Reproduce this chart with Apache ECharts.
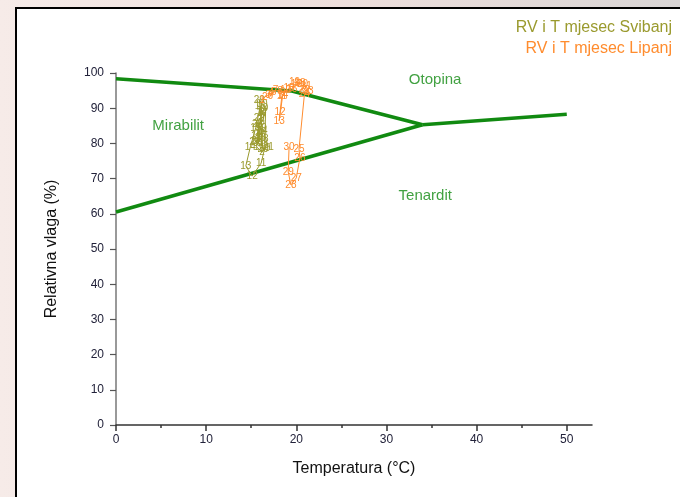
<!DOCTYPE html>
<html>
<head>
<meta charset="utf-8">
<script src="https://cdn.jsdelivr.net/npm/echarts@6/dist/echarts.min.js"></script>
<style>
  html, body { margin:0; padding:0; width:680px; height:497px; overflow:hidden;
    background: linear-gradient(to right, #f6ebe8 0%, #eedfdc 50%, #d9d5d5 100%); }
  #box { position:absolute; left:15px; top:7px; width:700px; height:520px;
    background:#fff; border:2px solid #000; }
  #chart { position:absolute; left:0; top:0; width:680px; height:497px; }
</style>
</head>
<body>
<div id="box"></div>
<div id="chart"></div>
<script>
// Tick labels
const xTicks = [0, 10, 20, 30, 40, 50];
const xMinorTicks = [5, 15, 25, 35, 45];
const yTicks = [0, 10, 20, 30, 40, 50, 60, 70, 80, 90, 100];

// Svibanj (May): temperature (°C) and relative humidity (%) by day 1..31
const mayT  = [15.6,16.2,15.7,16.0,15.7,16.2,16.4,16.2,16.6,16.5,16.1,15.1,14.4,14.9,15.5,16.0,16.2,15.6,16.1,16.3,16.9,15.9,15.7,16.2,15.6,16.0,15.4,16.3,15.9,16.2,15.8];
const mayRH = [79.0,77.6,81.0,83.0,84.7,86.1,87.5,88.9,90.1,78.7,74.4,70.7,73.6,79.0,84.4,90.6,88.6,82.1,84.4,78.4,79.0,87.2,85.5,83.5,80.7,81.5,80.4,81.3,92.3,91.2,80.0];

// Lipanj (June): temperature (°C) and relative humidity (%) by day 1..30
const junT  = [16.2,16.5,16.9,17.2,17.5,17.1,17.7,18.2,18.5,18.8,18.4,18.2,18.1,18.5,19.2,19.5,20.0,20.4,19.8,20.7,21.1,20.9,21.3,20.9,20.3,20.4,20.0,19.4,19.1,19.2];
const junRH = [92.3,93.2,93.8,94.3,94.6,93.5,95.2,94.9,94.6,95.2,93.5,88.9,86.4,93.8,95.7,95.5,96.9,97.2,97.4,96.9,96.3,95.2,94.9,93.9,78.4,75.9,70.2,68.2,71.9,79.0];

// Phase boundary lines (T, RH)
const boundaryUpperT  = [0, 19.5, 34];
const boundaryUpperRH = [98.4, 94.9, 85.3];
const boundaryLowerT  = [0, 34];
const boundaryLowerRH = [60.5, 85.3];
const boundaryRightT  = [34, 50];
const boundaryRightRH = [85.3, 88.3];

// Region names and their positions (T, RH)
const regionNames = ['Mirabilit', 'Otopina', 'Tenardit'];
const regionT  = [6.9, 35.4, 34.3];
const regionRH = [84.9, 98.0, 65.1];

const seriesNames = ['RV i T mjesec Svibanj', 'RV i T mjesec Lipanj'];

const OLIVE = '#9a9a2e';
const ORANGE = '#ff8c2e';
const GREEN = '#118a11';
const FONT = '"Liberation Sans", Arial, sans-serif';

const zip = (a, b) => a.map((v, i) => [v, b[i]]);

const chart = echarts.init(document.getElementById('chart'), null, { renderer: 'canvas' });

function boundary(t, rh) {
  return {
    type: 'line', data: zip(t, rh), symbol: 'none', silent: true,
    lineStyle: { color: GREEN, width: 3.5 }, z: 2
  };
}

function dayline(name, t, rh, color) {
  return {
    name, type: 'line', data: zip(t, rh),
    symbol: 'circle', symbolSize: 0, showSymbol: true,
    itemStyle: { color },
    lineStyle: { color, width: 1 },
    label: {
      show: true, position: 'inside', color,
      fontFamily: FONT, fontSize: 10,
      formatter: p => String(p.dataIndex + 1)
    },
    z: 3
  };
}

chart.setOption({
  animation: false,
  backgroundColor: 'transparent',
  textStyle: { fontFamily: FONT },
  grid: { left: 116, right: 88, top: 73, bottom: 72, containLabel: false },
  legend: {
    data: [
      { name: seriesNames[0], textStyle: { color: OLIVE } },
      { name: seriesNames[1], textStyle: { color: ORANGE } }
    ],
    orient: 'vertical', right: 3, top: 20, align: 'right', padding: 0,
    icon: 'none', itemWidth: 0, itemHeight: 14, itemGap: 5,
    textStyle: { fontSize: 16, fontFamily: FONT },
    selectedMode: false
  },
  xAxis: [{
    type: 'value', min: 0, max: 52.8, interval: 10,
    name: 'Temperatura (°C)', nameLocation: 'middle', nameGap: 36,
    nameTextStyle: { fontSize: 16, color: '#111', fontFamily: FONT },
    axisLine: { lineStyle: { color: '#333', width: 1.5 } },
    axisTick: { show: true, length: 6, customValues: xTicks, lineStyle: { color: '#333', width: 1.5 } },
    axisLabel: { customValues: xTicks, fontSize: 12, color: '#22223a', margin: 9 },
    splitLine: { show: false }
  }, {
    type: 'value', min: 0, max: 52.8, position: 'bottom', offset: 0,
    axisLine: { show: false },
    axisTick: { show: true, length: 3, customValues: xMinorTicks, lineStyle: { color: '#333', width: 1.5 } },
    axisLabel: { show: false },
    splitLine: { show: false }
  }],
  yAxis: {
    type: 'value', min: 0, max: 100, interval: 10,
    name: 'Relativna vlaga (%)', nameLocation: 'middle', nameGap: 56,
    nameTextStyle: { fontSize: 16, color: '#111', fontFamily: FONT },
    axisLine: { show: true, lineStyle: { color: '#777', width: 1.5 } },
    axisTick: { show: true, length: 6, lineStyle: { color: '#555', width: 1.2 } },
    axisLabel: { fontSize: 12, color: '#22223a', margin: 12,
      customValues: yTicks },
    splitLine: { show: false }
  },
  series: [
    boundary(boundaryUpperT, boundaryUpperRH),
    boundary(boundaryLowerT, boundaryLowerRH),
    boundary(boundaryRightT, boundaryRightRH),
    dayline(seriesNames[0], mayT, mayRH, OLIVE),
    dayline(seriesNames[1], junT, junRH, ORANGE),
    {
      type: 'scatter', silent: true, symbolSize: 0,
      data: regionNames.map((n, i) => ({ name: n, value: [regionT[i], regionRH[i]] })),
      label: { show: true, position: 'inside', formatter: p => p.name,
        color: GREEN, fontSize: 15, fontFamily: FONT },
      z: 4
    }
  ]
});
</script>
</body>
</html>
